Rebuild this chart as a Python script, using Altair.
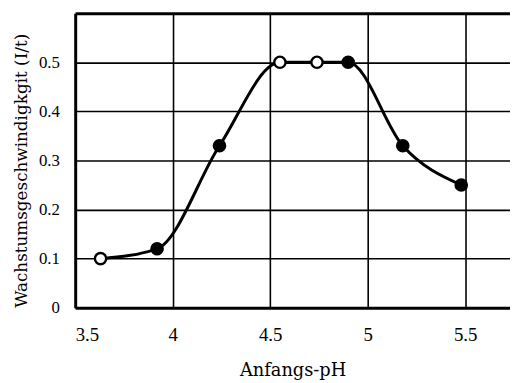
import altair as alt
import pandas as pd

ph = [3.63, 3.92, 4.24, 4.55, 4.74, 4.90, 5.18, 5.48]
rate = [0.10, 0.12, 0.33, 0.50, 0.50, 0.50, 0.33, 0.25]
kind = ["open", "filled", "filled", "open", "open", "filled", "filled", "filled"]
x_ticks = [3.5, 4.0, 4.5, 5.0, 5.5]
y_ticks = [0.0, 0.1, 0.2, 0.3, 0.4, 0.5, 0.6]

df = pd.DataFrame({"ph": ph, "rate": rate, "kind": kind})

xs = alt.Scale(domain=[3.5, 5.73], nice=False, zero=False)
ys = alt.Scale(domain=[0, 0.6], nice=False)

x_axis = alt.Axis(
    values=x_ticks, title="Anfangs-pH", labelFlush=True,
    labelExpr="datum.value == 4 || datum.value == 5 ? format(datum.value, 'd') : format(datum.value, '.1f')",
    labelFont="Liberation Serif", labelFontSize=19, labelPadding=18,
    titleFont="DejaVu Serif", titleFontSize=18, titleFontWeight="normal", titlePadding=18,
)
y_axis = alt.Axis(
    values=y_ticks, title="Wachstumsgeschwindigkgit (I/t)",
    labelExpr="datum.value >= 0.6 ? '' : (datum.value == 0 ? '0' : format(datum.value, '.1f'))",
    labelFont="Liberation Serif", labelFontSize=17, labelPadding=16,
    titleFont="DejaVu Serif", titleFontSize=17, titleFontWeight="normal", titlePadding=8,
    titleY=159,
    gridWidth={"condition": {"test": "datum.value >= 0.6", "value": 3}, "value": 1.6},
)

base = alt.Chart(df)
line = base.mark_line(interpolate="monotone", color="black", strokeWidth=3).encode(
    x=alt.X("ph:Q", scale=xs, axis=x_axis),
    y=alt.Y("rate:Q", scale=ys, axis=y_axis),
)
pts = base.mark_point(filled=False, size=130, strokeWidth=2.4, stroke="black", opacity=1).encode(
    x=alt.X("ph:Q", scale=xs),
    y=alt.Y("rate:Q", scale=ys),
    fill=alt.Fill("kind:N", scale=alt.Scale(domain=["open", "filled"], range=["white", "black"]), legend=None),
)

chart = (line + pts).properties(
    width=440, height=298,
    autosize=alt.AutoSizeParams(type="none"),
    padding={"left": 68, "top": 3, "right": 0, "bottom": 80},
).configure_view(stroke=None).configure_axis(
    domainColor="black", domainWidth=3, gridColor="black", gridWidth=1.6,
    gridOpacity=1, ticks=False, labelColor="black", titleColor="black",
)

chart.save("out.html", embed_options={"renderer": "svg", "actions": False})
